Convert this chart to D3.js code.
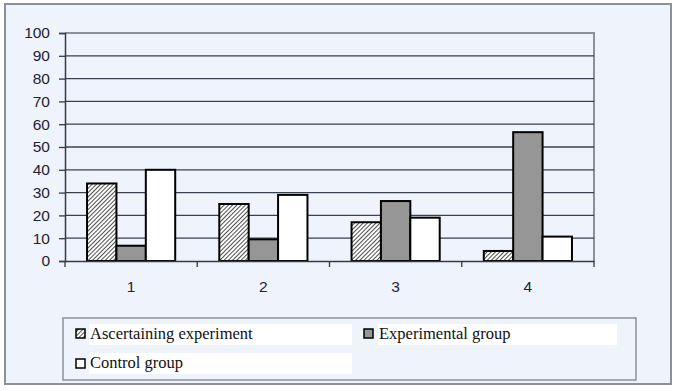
<!DOCTYPE html>
<html><head><meta charset="utf-8">
<script src="https://cdn.jsdelivr.net/npm/d3@7"></script>
<style>body{margin:0;background:#fff;}svg{display:block;}
.sans{font-family:"Liberation Sans",Arial,sans-serif;}
.serif{font-family:"Liberation Serif","Times New Roman",serif;}
</style>
</head><body>
<script>
const categories = ["1","2","3","4"];
const seriesNames = ["Ascertaining experiment","Experimental group","Control group"];
const ascertaining = [34, 25, 17, 4.4];
const experimental = [6.7, 9.5, 26.3, 56.5];
const control = [40, 29, 19, 10.7];
const yTicks = [0,10,20,30,40,50,60,70,80,90,100];

const W = 680, H = 391;
const svg = d3.select("body").append("svg").attr("width", W).attr("height", H);
const defs = svg.append("defs");
const pat = defs.append("pattern").attr("id","hatch").attr("patternUnits","userSpaceOnUse")
  .attr("width",3).attr("height",3).attr("patternTransform","rotate(45)");
pat.append("rect").attr("width",3).attr("height",3).attr("fill","#fff");
pat.append("line").attr("x1",0).attr("y1",0).attr("x2",0).attr("y2",3).attr("stroke","#222").attr("stroke-width",1.6);

// outer frame
svg.append("rect").attr("x",5).attr("y",4).attr("width",666).attr("height",380)
  .attr("fill","#eff3fb").attr("stroke","#8c9099").attr("stroke-width",2);

const plot = {l:65, r:594, t:33, b:261};
const x = d3.scaleBand().domain(categories).range([plot.l, plot.r]);
const y = d3.scaleLinear().domain([0,100]).range([plot.b, plot.t]);
const inner = d3.scaleBand().domain(seriesNames).range([0, x.bandwidth()]).paddingOuter(0.75).paddingInner(0);

// plot border (top/right)
svg.append("path").attr("d",`M${plot.l},${plot.t}H${plot.r}V${plot.b}`).attr("fill","none").attr("stroke","#8c9099").attr("stroke-width",2);
// gridlines
svg.append("g").selectAll("line").data(yTicks.filter(d=>d>0 && d<100)).join("line")
  .attr("x1",plot.l).attr("x2",plot.r).attr("y1",d=>y(d)).attr("y2",d=>y(d))
  .attr("stroke","#3a4150").attr("stroke-width",1.3);

const series = [
  {name:seriesNames[0], values:ascertaining, fill:"url(#hatch)"},
  {name:seriesNames[1], values:experimental, fill:"#969696"},
  {name:seriesNames[2], values:control, fill:"#ffffff"}
];
series.forEach(s=>{
  svg.append("g").selectAll("rect").data(categories).join("rect")
    .attr("x",(c)=>x(c)+inner(s.name)).attr("width",inner.bandwidth())
    .attr("y",(c,i)=>y(s.values[i])).attr("height",(c,i)=>y(0)-y(s.values[i]))
    .attr("fill",s.fill).attr("stroke","#000").attr("stroke-width",2);
});

// y axis
const yAxis = svg.append("g").attr("transform",`translate(${plot.l},0)`)
  .call(d3.axisLeft(y).tickValues(yTicks).tickSize(6).tickPadding(9));
yAxis.attr("font-family",null).attr("font-size",null);
yAxis.select(".domain").attr("stroke","#333a48").attr("stroke-width",1.5);
yAxis.selectAll(".tick line").attr("stroke","#333a48").attr("stroke-width",1.3);
yAxis.selectAll("text").attr("class","sans").style("font-size","15.5px").attr("fill","#1c2333");

// x axis
const xAxis = svg.append("g").attr("transform",`translate(0,${plot.b})`)
  .call(d3.axisBottom(x).tickSize(0).tickPadding(20));
xAxis.attr("font-family",null).attr("font-size",null);
xAxis.select(".domain").attr("stroke","#333a48").attr("stroke-width",1.5);
xAxis.selectAll("text").attr("class","sans").style("font-size","15.5px").attr("fill","#1c2333");
// category separator ticks
svg.append("g").selectAll("line").data(categories.concat(["end"])).join("line")
  .attr("x1",(d,i)=> i<categories.length ? x(d) : plot.r).attr("x2",(d,i)=> i<categories.length ? x(d) : plot.r)
  .attr("y1",plot.b).attr("y2",plot.b+6).attr("stroke","#333a48").attr("stroke-width",1.3);

// legend
svg.append("rect").attr("x",63).attr("y",318).attr("width",573).attr("height",62)
  .attr("fill","#eff3fb").attr("stroke","#8c9099").attr("stroke-width",1.5);
const legItems = [
  {s:series[0], mx:76, my:329, tx:89, ty:324, tw:263},
  {s:series[1], mx:364, my:329, tx:378, ty:324, tw:239},
  {s:series[2], mx:76, my:359, tx:89, ty:353, tw:263}
];
const lg = svg.append("g").selectAll("g").data(legItems).join("g");
lg.append("rect").attr("x",d=>d.tx).attr("y",d=>d.ty).attr("width",d=>d.tw).attr("height",21).attr("fill","#fff");
lg.append("rect").attr("x",d=>d.mx).attr("y",d=>d.my).attr("width",9).attr("height",9)
  .attr("fill",d=>d.s.fill).attr("stroke","#000").attr("stroke-width",1.5);
lg.append("text").attr("class","serif").attr("x",d=>d.tx+1).attr("y",d=>d.ty+15).text(d=>d.s.name)
  .style("font-size","16.5px").attr("fill","#111");
</script>
</body></html>
